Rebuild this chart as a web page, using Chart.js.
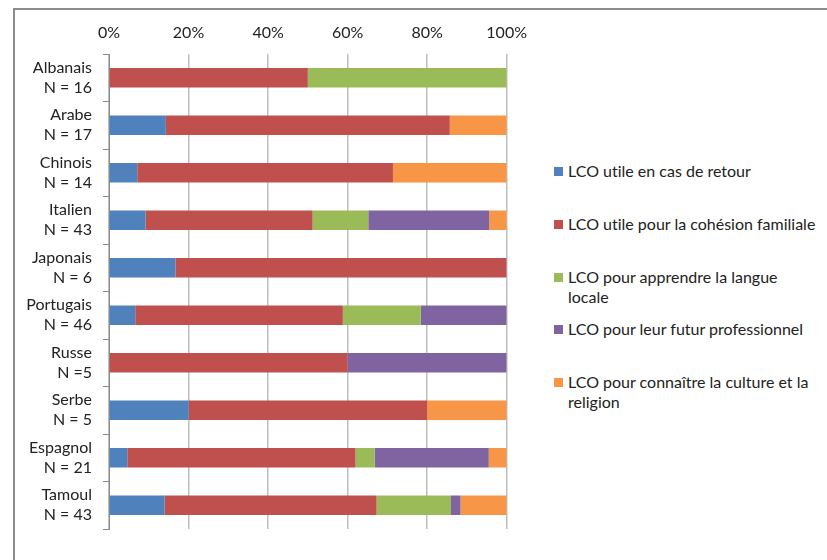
<!DOCTYPE html>
<html lang="fr">
<head>
  <meta charset="UTF-8" />
  <title>LCO - raisons par langue</title>
  <script src="https://cdn.jsdelivr.net/npm/chart.js"></script>
  <style>
    body { margin: 0; background: #fff; font-family: Lato, "Open Sans", sans-serif; }
    .frame {
      position: absolute; left: 13px; top: 8px; width: 900px; height: 600px;
      border-left: 2px solid #8c8c8c; border-top: 2px solid #8c8c8c;
    }
    .chart-box { position: absolute; left: 0; top: 0; width: 539px; height: 560px; }
    .legend { position: absolute; left: 0; top: 0; }
    .legend-item { position: absolute; left: 554px; width: 268px; font-size: 16px; line-height: 20px; color: #222; font-variant-ligatures: none; }
    .legend-item .sw { position: absolute; left: 0; top: 6px; width: 9px; height: 9px; }
    .legend-item .txt { display: block; margin-left: 14px; }
  </style>
</head>
<body>
  <div class="frame"></div>
  <div class="chart-box"><canvas id="lcoChart"></canvas></div>
  <div class="legend" id="legend"></div>

  <script>
    // categories (two-line labels)
    const langues = ['Albanais', 'Arabe', 'Chinois', 'Italien', 'Japonais', 'Portugais', 'Russe', 'Serbe', 'Espagnol', 'Tamoul'];
    const effectifs = ['N = 16', 'N = 17', 'N = 14', 'N = 43', 'N = 6', 'N = 46', 'N =5', 'N = 5', 'N = 21', 'N = 43'];

    const seriesNames = [
      'LCO utile en cas de retour',
      'LCO utile pour la cohésion familiale',
      'LCO pour apprendre la langue locale',
      'LCO pour leur futur professionnel',
      'LCO pour connaître la culture et la religion'
    ];
    const seriesColors = ['#4F81BD', '#C0504D', '#9BBB59', '#8064A2', '#F79646'];

    // percentages
    const retour      = [0,    14.3,  7.1,  9.2, 16.7,  6.6,  0, 20,  4.6, 14.0];
    const cohesion    = [50,   71.4, 64.3, 42.0, 83.3, 52.2, 60, 60, 57.4, 53.3];
    const langueLoc   = [50,    0,    0,   14.0,  0,   19.6,  0,  0,  4.8, 18.7];
    const professionn = [0,     0,    0,   30.4,  0,   21.6, 40,  0, 28.7,  2.4];
    const culture     = [0,    14.3, 28.6,  4.4,  0,    0,    0, 20,  4.5, 11.6];

    const xTicks = [0, 20, 40, 60, 80, 100];

    const allSeries = [retour, cohesion, langueLoc, professionn, culture];

    const ctx = document.getElementById('lcoChart').getContext('2d');
    const chart = new Chart(ctx, {
      type: 'bar',
      data: {
        labels: langues.map((l, i) => [l, effectifs[i]]),
        datasets: allSeries.map((vals, i) => ({
          label: seriesNames[i],
          data: vals,
          backgroundColor: seriesColors[i],
          borderWidth: 0,
          barPercentage: 0.41,
          categoryPercentage: 1
        }))
      },
      options: {
        indexAxis: 'y',
        responsive: true,
        maintainAspectRatio: false,
        animation: false,
        layout: { padding: { left: 15, right: 20, top: 10, bottom: 15 } },
        plugins: {
          legend: { display: false },
          tooltip: { enabled: false }
        },
        scales: {
          x: {
            position: 'top',
            stacked: true,
            min: 0,
            max: 100,
            afterBuildTicks: (s) => { s.ticks = xTicks.map(v => ({ value: v })); },
            afterFit: (s) => { s.height = 44; },
            ticks: {
              padding: 12,
              color: '#222',
              font: { family: 'Lato', size: 16 },
              callback: (v) => v + '%'
            },
            grid: { color: '#BEBEBE', lineWidth: 1.5, drawTicks: false },
            border: { display: false }
          },
          y: {
            stacked: true,
            afterFit: (s) => { s.width = 94; },
            ticks: {
              padding: 11,
              color: '#222',
              font: { family: 'Lato', size: 16, lineHeight: 1.25 }
            },
            grid: { drawOnChartArea: false, drawTicks: true, tickLength: 6, color: '#8c8c8c', offset: true },
            border: { display: true, color: '#8c8c8c', width: 1 }
          }
        }
      }
    });

    // legend built from the datasets
    const legendEl = document.getElementById('legend');
    chart.data.datasets.forEach((ds, i) => {
      const item = document.createElement('div');
      item.className = 'legend-item';
      item.style.top = (161 + i * 52.75) + 'px';
      item.innerHTML = '<span class="sw" style="background:' + ds.backgroundColor + '"></span><span class="txt">' + ds.label + '</span>';
      legendEl.appendChild(item);
    });
  </script>
</body>
</html>
